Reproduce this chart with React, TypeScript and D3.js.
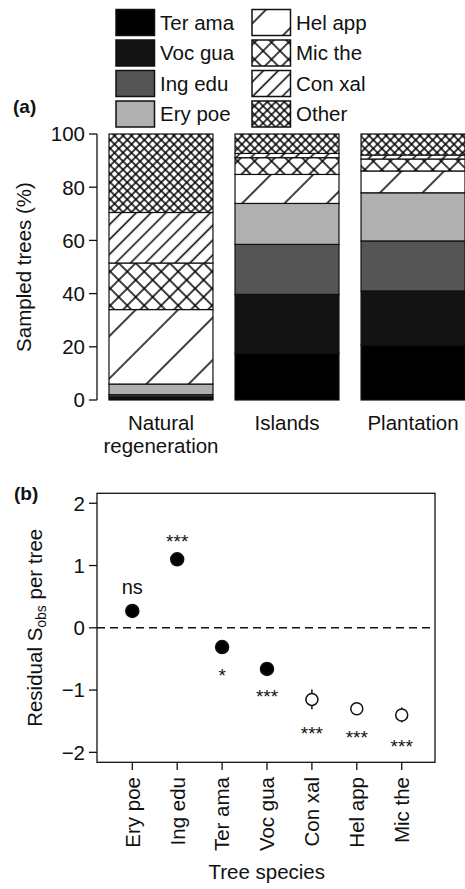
import React from 'react';
import * as d3 from 'd3';

// panel (a): share of sampled trees per site (%)
const sites = ['Natural regeneration', 'Islands', 'Plantation'];
const stackSpecies = ['Ter ama', 'Voc gua', 'Ing edu', 'Ery poe', 'Hel app', 'Mic the', 'Con xal', 'Other'];
const terAma = [0.5, 17.5, 20.7];
const vocGua = [0.7, 22.2, 20.3];
const ingEdu = [0.8, 18.8, 18.8];
const eryPoe = [4.0, 15.4, 18.1];
const helApp = [28.0, 10.9, 8.2];
const micThe = [17.5, 6.3, 4.5];
const conXal = [19.0, 1.6, 1.5];
const other = [29.5, 7.3, 7.9];
const pctTicks = [0, 20, 40, 60, 80, 100];

// panel (b): residual species richness per tree
const residualSpecies = ['Ery poe', 'Ing edu', 'Ter ama', 'Voc gua', 'Con xal', 'Hel app', 'Mic the'];
const residualMean = [0.27, 1.1, -0.31, -0.66, -1.15, -1.3, -1.4];
const residualSE = [0.05, 0.06, 0.07, 0.06, 0.16, 0.07, 0.12];
const significance = ['ns', '***', '*', '***', '***', '***', '***'];
const planted = [true, true, true, true, false, false, false];
const residualTicks = [-2, -1, 0, 1, 2];

const FONT = '"Liberation Sans", Arial, Helvetica, sans-serif';
const FS = 20.5;

const fills: Record<string, string> = {
  'Ter ama': '#000000',
  'Voc gua': '#131313',
  'Ing edu': '#555555',
  'Ery poe': '#b0b0b0',
  'Hel app': 'url(#pHel)',
  'Mic the': 'url(#pMic)',
  'Con xal': 'url(#pCon)',
  Other: 'url(#pOther)',
};

const Hatch = ({ id, s, cross }: { id: string; s: number; cross: boolean }) => (
  <pattern id={id} patternUnits="userSpaceOnUse" width={s} height={s} patternTransform="rotate(45)">
    <rect width={s} height={s} fill="#fff" />
    <line x1={s / 2} y1={0} x2={s / 2} y2={s} stroke="#000" strokeWidth={1.5} />
    {cross && <line x1={0} y1={s / 2} x2={s} y2={s / 2} stroke="#000" strokeWidth={1.5} />}
  </pattern>
);

export default function App() {
  const rows = sites.map((site, i) => ({
    site,
    'Ter ama': terAma[i],
    'Voc gua': vocGua[i],
    'Ing edu': ingEdu[i],
    'Ery poe': eryPoe[i],
    'Hel app': helApp[i],
    'Mic the': micThe[i],
    'Con xal': conXal[i],
    Other: other[i],
  }));
  const stacked = d3.stack<any>().keys(stackSpecies)(rows);

  const xA = d3.scaleBand().domain(sites).range([109, 465]).paddingInner(0.175).paddingOuter(0);
  const yA = d3.scaleLinear().domain([0, 100]).range([400, 134]);

  const xB = d3.scalePoint().domain(residualSpecies).range([132.3, 401.7]);
  const yB = d3.scaleLinear().domain([-2.16, 2.16]).range([762.3, 493.3]);
  const fmt = d3.format('d');

  const legendLeft = stackSpecies.slice(0, 4);
  const legendRight = stackSpecies.slice(4);

  return (
    <svg
      width={465}
      height={889}
      style={{ position: 'absolute', left: 0, top: 0, background: '#fff' }}
      fontFamily={FONT}
    >
      <defs>
        <Hatch id="pHel" s={30} cross={false} />
        <Hatch id="pCon" s={10.5} cross={false} />
        <Hatch id="pMic" s={12} cross={true} />
        <Hatch id="pOther" s={6} cross={true} />
      </defs>

      {/* legend */}
      {[legendLeft, legendRight].map((col, c) =>
        col.map((sp, r) => {
          const bx = c === 0 ? 116 : 252;
          const by = 9.5 + r * 30.5;
          return (
            <g key={sp}>
              <rect x={bx} y={by} width={38.5} height={26} fill={fills[sp]} stroke="#111" strokeWidth={1.5} />
              <text x={bx + 44} y={by + 13} dy="0.36em" fontSize={FS} fill="#111">
                {sp}
              </text>
            </g>
          );
        })
      )}

      {/* panel (a) */}
      <text x={13} y={113} fontSize={19} fontWeight="bold" fill="#111">(a)</text>
      {stacked.map((layer) =>
        layer.map((d, i) => (
          <rect
            key={layer.key + i}
            x={xA(sites[i])}
            y={yA(d[1])}
            width={xA.bandwidth()}
            height={yA(d[0]) - yA(d[1])}
            fill={fills[layer.key]}
            stroke="#111"
            strokeWidth={1.2}
          />
        ))
      )}
      <line x1={97} x2={97} y1={yA(0)} y2={yA(100)} stroke="#111" strokeWidth={1.3} />
      {pctTicks.map((t) => (
        <g key={t}>
          <line x1={89} x2={97} y1={yA(t)} y2={yA(t)} stroke="#111" strokeWidth={1.3} />
          <text x={85} y={yA(t)} dy="0.36em" textAnchor="end" fontSize={FS} fill="#111">
            {t}
          </text>
        </g>
      ))}
      <text transform={`translate(31,${yA(50)}) rotate(-90)`} textAnchor="middle" fontSize={FS} fill="#111">
        Sampled trees (%)
      </text>
      {sites.map((s) => {
        const cx = (xA(s) as number) + xA.bandwidth() / 2;
        const parts = s === 'Natural regeneration' ? ['Natural', 'regeneration'] : [s];
        return parts.map((p, k) => (
          <text key={p} x={cx} y={430 + k * 23} textAnchor="middle" fontSize={FS} fill="#111">
            {p}
          </text>
        ));
      })}

      {/* panel (b) */}
      <text x={14} y={500} fontSize={19} fontWeight="bold" fill="#111">(b)</text>
      <rect x={97} y={493.3} width={338} height={269} fill="none" stroke="#111" strokeWidth={1.3} />
      <line x1={97} x2={435} y1={yB(0)} y2={yB(0)} stroke="#111" strokeWidth={1.5} strokeDasharray="8,5" />
      {residualTicks.map((t) => (
        <g key={t}>
          <line x1={89} x2={97} y1={yB(t)} y2={yB(t)} stroke="#111" strokeWidth={1.3} />
          <text x={85} y={yB(t)} dy="0.36em" textAnchor="end" fontSize={FS} fill="#111">
            {fmt(t).replace('-', '\u2212')}
          </text>
        </g>
      ))}
      <text transform={`translate(42,${yB(0)}) rotate(-90)`} textAnchor="middle" fontSize={FS} fill="#111">
        Residual S
        <tspan fontSize={14} dy={4}>obs</tspan>
        <tspan dy={-4}>{' per tree'}</tspan>
      </text>
      {residualSpecies.map((sp, i) => {
        const x = xB(sp) as number;
        const m = residualMean[i];
        const se = residualSE[i];
        const above = m > 0;
        const labelCenter = above ? yB(m + se) - 19 : yB(m - se) + 19;
        const isStar = significance[i] !== 'ns';
        return (
          <g key={sp}>
            <line x1={x} x2={x} y1={yB(m - se)} y2={yB(m + se)} stroke="#111" strokeWidth={1.5} />
            <circle
              cx={x}
              cy={yB(m)}
              r={planted[i] ? 6.5 : 6}
              fill={planted[i] ? '#000' : '#fff'}
              stroke="#111"
              strokeWidth={1.5}
            />
            <text
              x={x}
              y={labelCenter + (isStar ? 11.5 : 5.5)}
              textAnchor="middle"
              fontSize={isStar ? 19 : 20}
              fill="#111"
            >
              {significance[i]}
            </text>
            <line x1={x} x2={x} y1={762.3} y2={770} stroke="#111" strokeWidth={1.3} />
            <text
              transform={`translate(${x},777) rotate(-90)`}
              dy="0.36em"
              textAnchor="end"
              fontSize={FS}
              fill="#111"
            >
              {sp}
            </text>
          </g>
        );
      })}
      <text x={266.7} y={879} textAnchor="middle" fontSize={FS} fill="#111">
        Tree species
      </text>
    </svg>
  );
}
